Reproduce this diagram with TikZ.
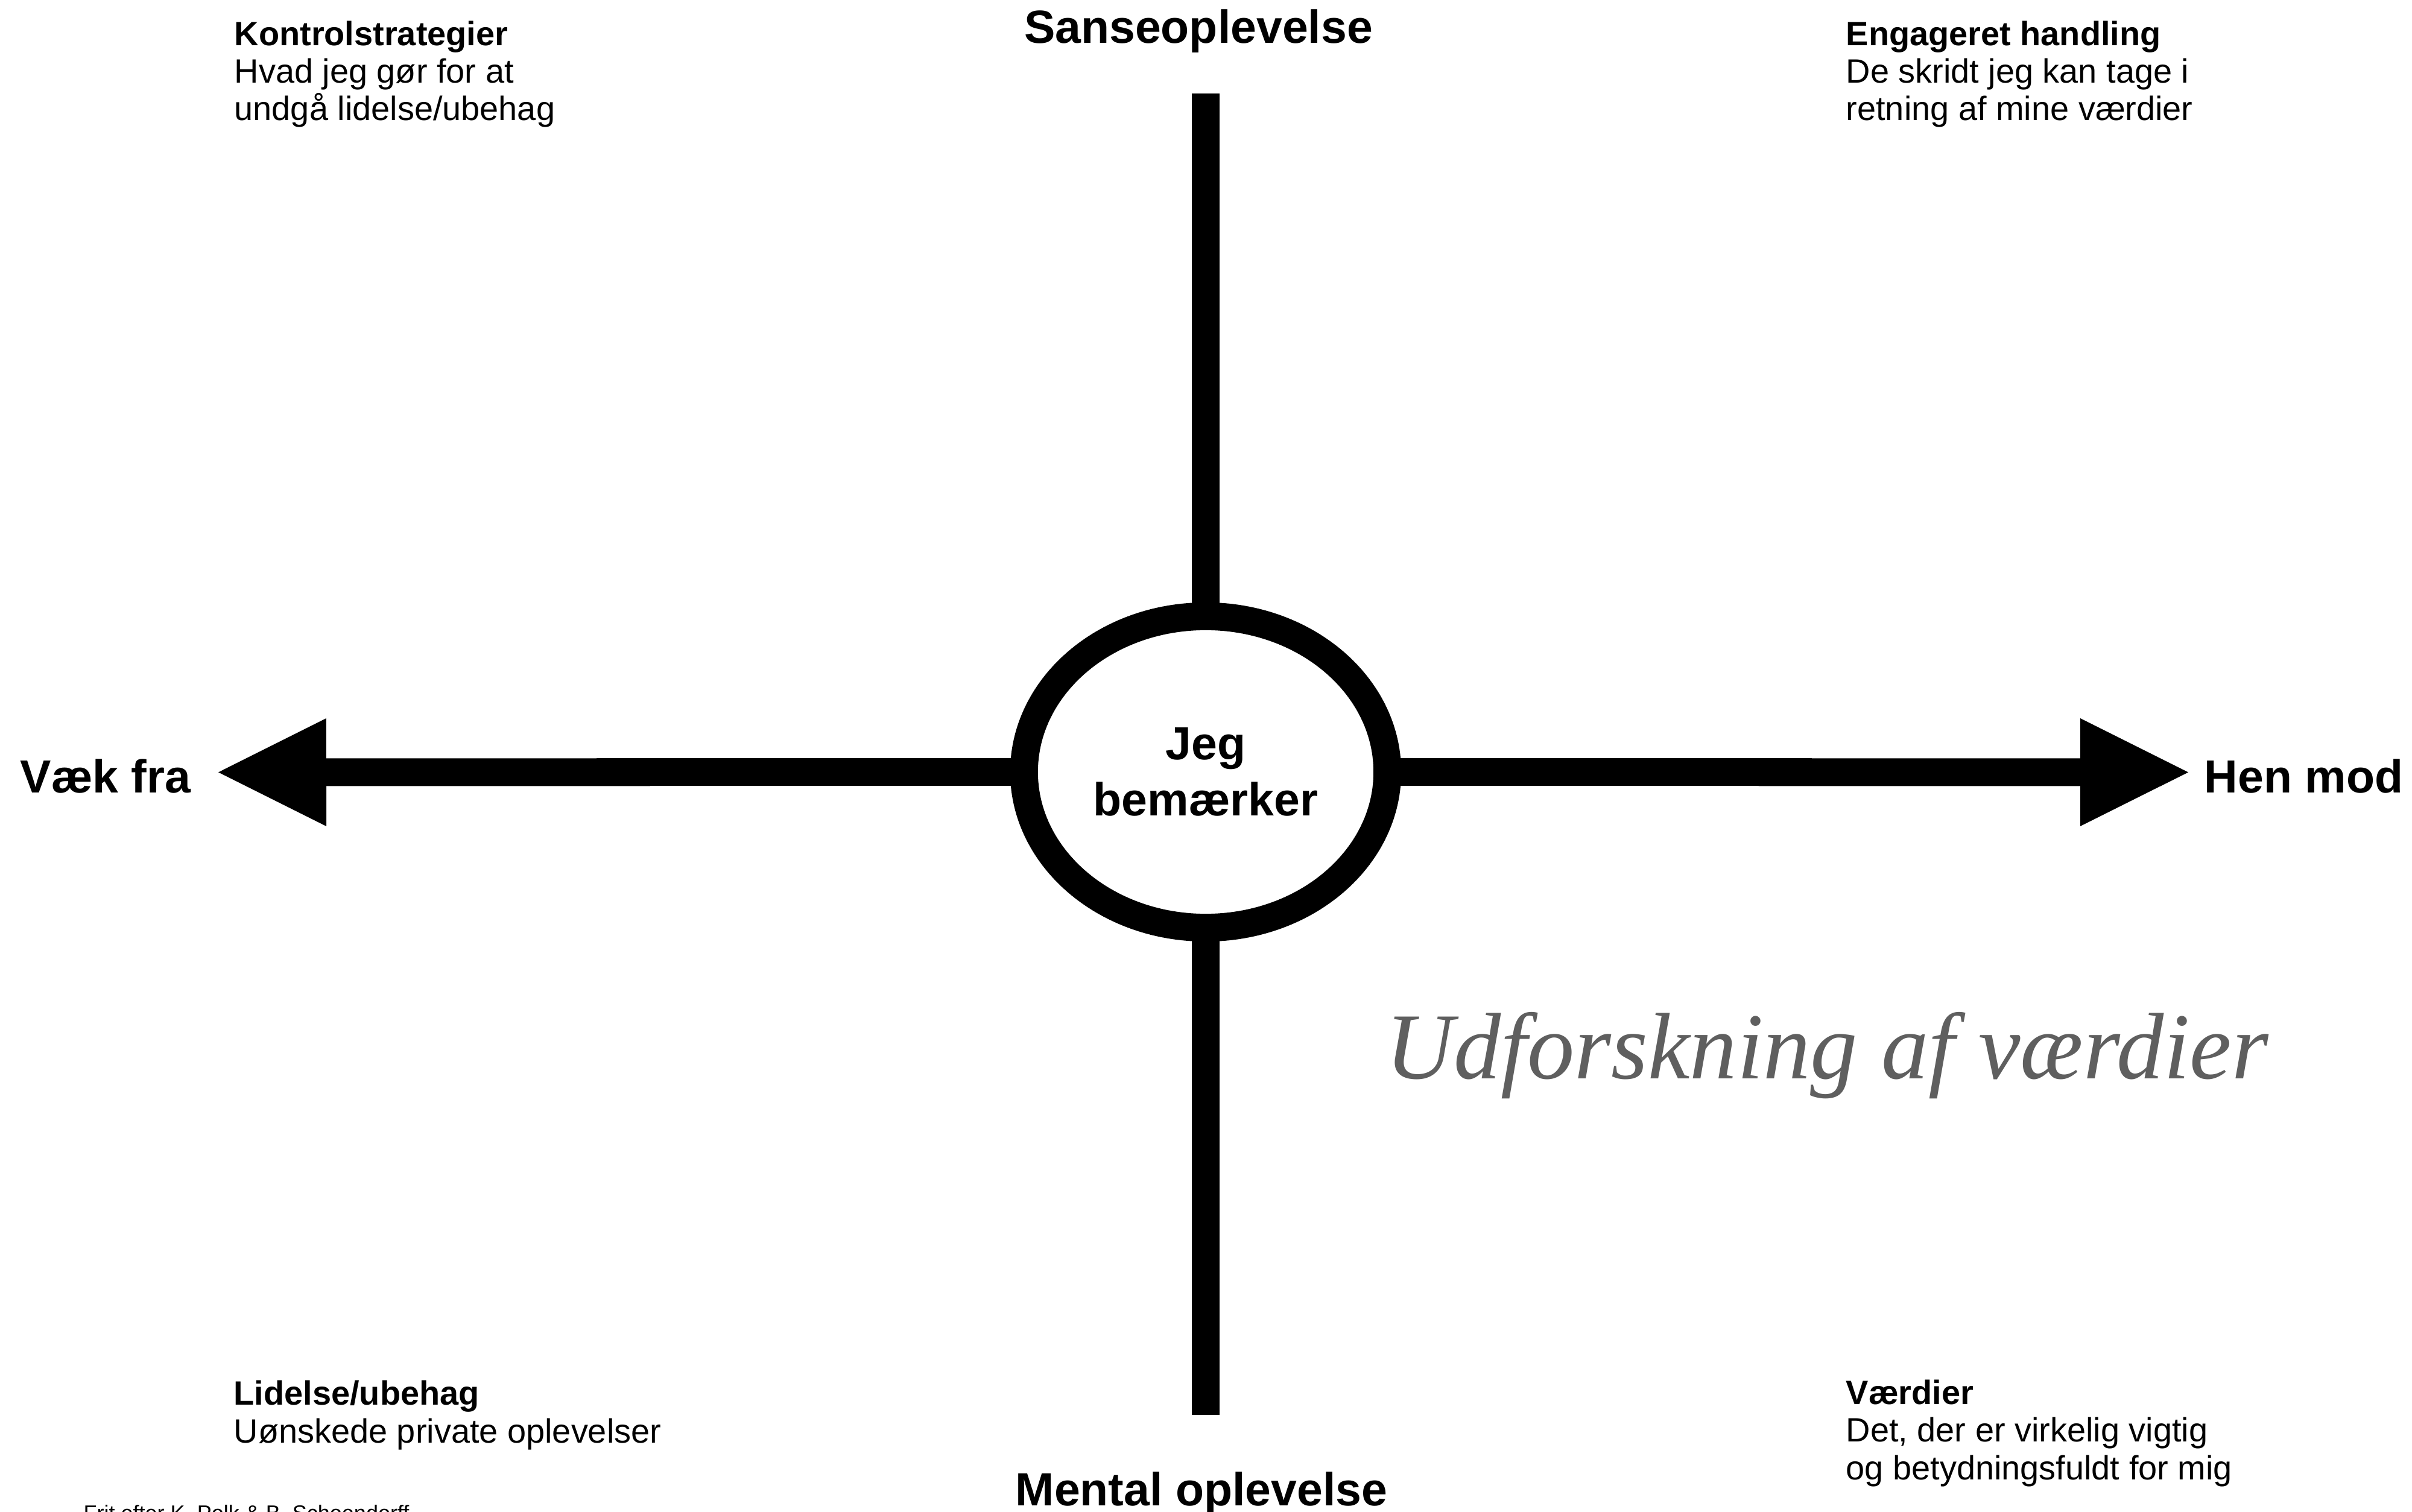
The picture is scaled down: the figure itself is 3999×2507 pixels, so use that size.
\documentclass[tikz,border=0pt]{standalone}
\usepackage{fontspec}
\setmainfont{Liberation Sans}
\newfontfamily\titlefont{Liberation Serif}
\usetikzlibrary{shapes.geometric,arrows.meta}
\definecolor{titlegray}{RGB}{95,95,95}
\tikzset{
  bighead/.tip={Triangle[length=50.9pt,width=50.9pt,line width=0pt]},
}
\begin{document}
\begin{tikzpicture}[x=0.01cm,y=-0.01cm,
  bar/.style={line width=13.09pt, line cap=butt},
  axislabel/.style={font=\fontsize{21.9}{26.46}\selectfont\bfseries, inner sep=0pt},
  corner/.style={font=\fontsize{15.9}{17.64}\selectfont, align=left, inner sep=0pt, anchor=base west},
]
\useasboundingbox (0,0) rectangle (3999,2507);

% centre ring
\node[draw, ellipse, line width=13.09pt, minimum width=6.02cm, minimum height=5.16cm,
      inner sep=0pt, outer sep=0pt, align=center,
      font=\fontsize{21.9}{26.46}\selectfont\bfseries] (c) at (1999,1280) {Jeg\\bemærker};

% free ends of the axes
\coordinate (top) at (1999,155);
\coordinate (bot) at (1999,2346);
\coordinate (lefttip) at (362,1280.5);
\coordinate (righttip) at (3628,1280.5);

\draw[bar] (c.north) -- (top);
\draw[bar] (c.south) -- (bot);
\draw[bar, -bighead] (c.west) -- (lefttip);
\draw[bar, -bighead] (c.east) -- (righttip);

% axis labels
\node[axislabel, anchor=base] (sense) at (1987,72) {Sanseoplevelse};
\node[axislabel, anchor=base] (mental) at (1992,2496) {Mental oplevelse};
\node[axislabel, anchor=base west] (away) at (33,1314) {Væk fra};
\node[axislabel, anchor=base west] (toward) at (3654,1314) {Hen mod};

% quadrant texts (anchor = baseline of the last line)
\node[corner] (kontrol) at (388,200) {\textbf{Kontrolstrategier}\\Hvad jeg gør for at\\undgå lidelse/ubehag};
\node[corner] (engag) at (3060,200) {\textbf{Engageret handling}\\De skridt jeg kan tage i\\retning af mine værdier};
\node[corner] (lidelse) at (387,2392) {\textbf{Lidelse/ubehag}\\Uønskede private oplevelser};
\node[corner] (vaerdier) at (3060,2453) {\textbf{Værdier}\\Det, der er virkelig vigtig\\og betydningsfuldt for mig};

% title
\node[font=\titlefont\itshape\fontsize{44.5}{50}\selectfont, text=titlegray,
      anchor=base west, inner sep=0pt] (title) at (2297,1788) {Udforskning af værdier};

% credit (cut by the page edge, as in the reference)
\node[font=\fontsize{10.24}{12}\selectfont, anchor=base west, inner sep=0pt] (credit) at (138,2521) {Frit efter K. Polk \& B. Schoendorff};
\end{tikzpicture}
\end{document}
